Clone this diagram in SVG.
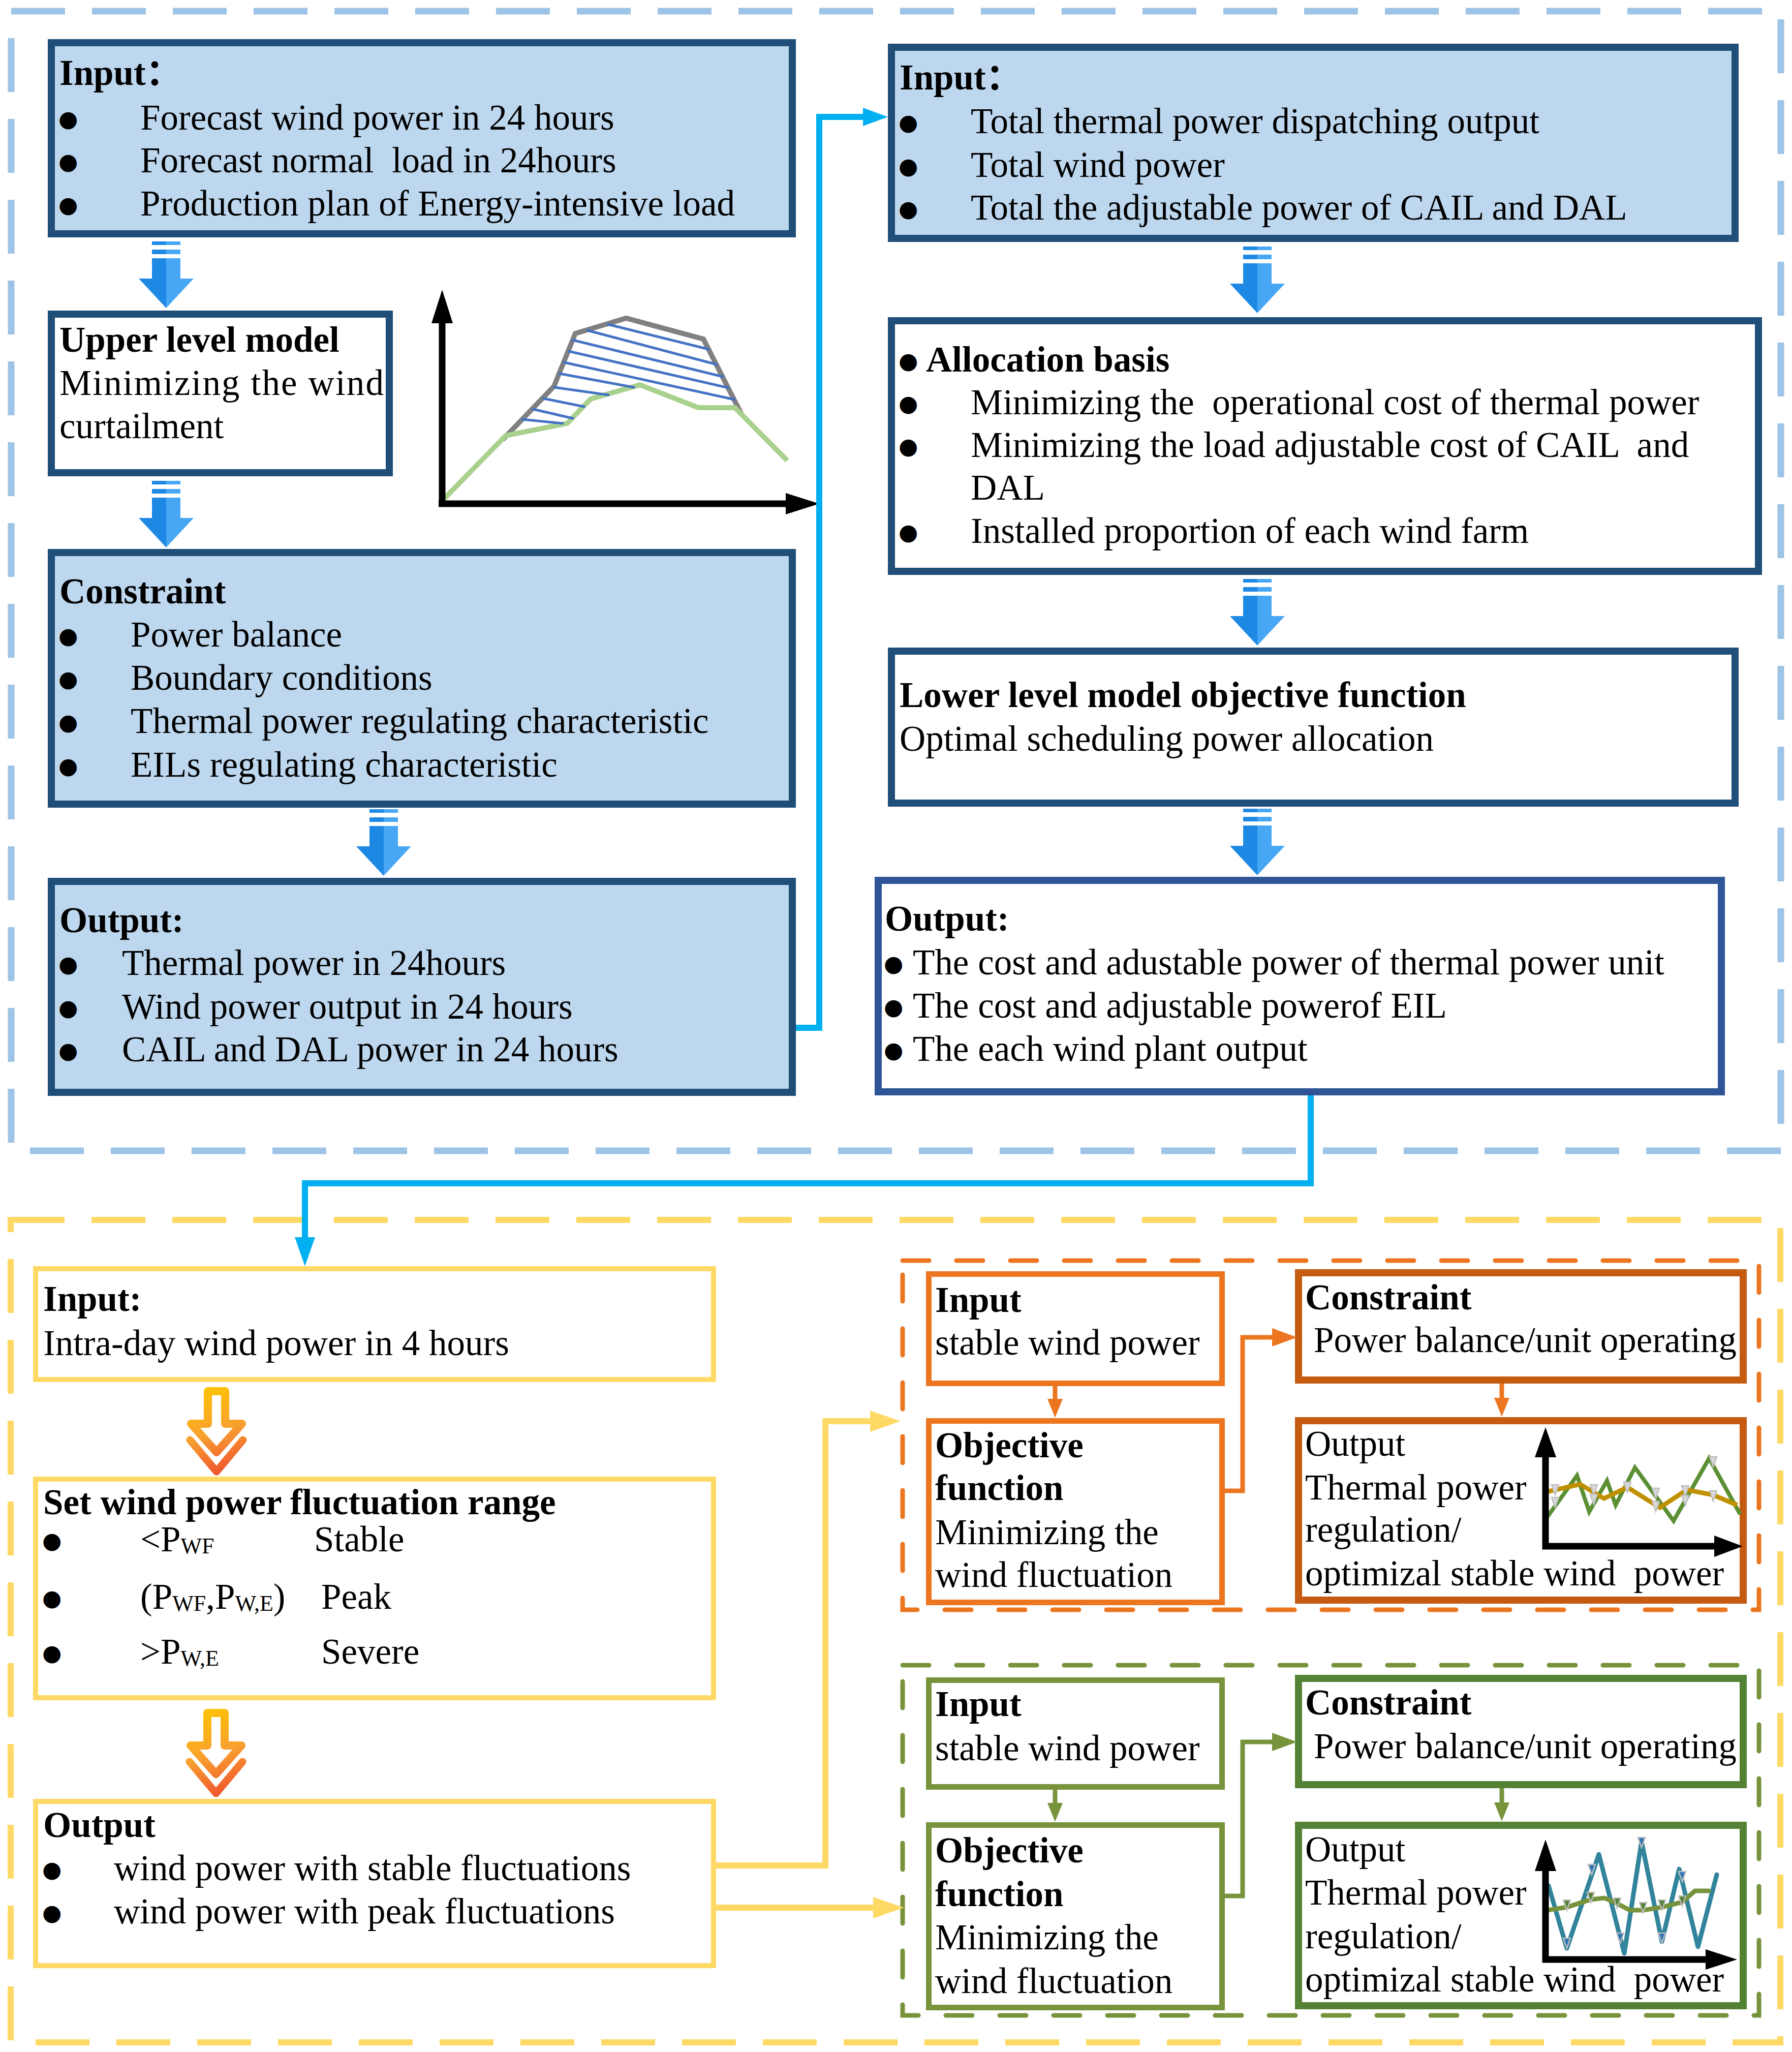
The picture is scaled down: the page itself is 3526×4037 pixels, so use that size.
<svg xmlns="http://www.w3.org/2000/svg" width="3526" height="4037" viewBox="0 0 3526 4037" xml:space="preserve">
<defs>
<style>
text{font-family:"Liberation Serif","Noto Sans CJK SC",serif;font-size:71px;fill:#000;white-space:pre}
.b{font-weight:bold}
.u{font-family:"DejaVu Sans",sans-serif;font-size:44px}
.bx{fill:#BDD7EE;stroke:#1F4E79;stroke-width:14}
.bw{fill:#fff;stroke:#1F4E79;stroke-width:14}
.bo{fill:#fff;stroke:#2F5597;stroke-width:14}
.yb{fill:#fff;stroke:#FFD966;stroke-width:10}
.ob{fill:#fff;stroke:#EC7620;stroke-width:11}
.od{fill:#fff;stroke:#C55A11;stroke-width:14}
.gb{fill:#fff;stroke:#77933C;stroke-width:11}
.gd{fill:#fff;stroke:#548235;stroke-width:14}
.cy{fill:none;stroke:#00B0F0;stroke-width:12}
.yl{fill:none;stroke:#FFD966;stroke-width:12}
.ol{fill:none;stroke:#EC7620;stroke-width:9}
.gl{fill:none;stroke:#77933C;stroke-width:9}
.ax{fill:none;stroke:#000;stroke-width:13}
.hat{stroke:#4472C4;stroke-width:5;stroke-linecap:round}
</style>
<linearGradient id="bg" x1="0" y1="0" x2="1" y2="0">
<stop offset="0" stop-color="#1E88E5"/><stop offset="0.5" stop-color="#1E88E5"/>
<stop offset="0.5" stop-color="#48A7F4"/><stop offset="1" stop-color="#48A7F4"/>
</linearGradient>
<linearGradient id="og" gradientUnits="userSpaceOnUse" x1="-30" y1="0" x2="30" y2="175">
<stop offset="0" stop-color="#FFC400"/><stop offset="0.5" stop-color="#F8A030"/><stop offset="1" stop-color="#EE4A2C"/>
</linearGradient>
<path id="barrow" fill="url(#bg)" d="M-28,0 H28 V7 H-28 Z M-28,16 H28 V25 H-28 Z M-28,33 H28 V73 H54 L0,131 L-54,73 H-28 Z"/>
<g id="oarrow" fill="none" stroke="url(#og)" stroke-linejoin="round" stroke-linecap="round">
<path fill="#fff" stroke-width="16" d="M-17,8 H17 V72 H50 L0,128 L-50,72 H-17 Z"/>
<path stroke-width="15" d="M-52,104 L0,166 L52,104"/>
</g>
<path id="tm" d="M-7,-10 H7 L0,10 Z" stroke="#BFBFBF" stroke-width="2.5"/>
</defs>

<rect width="3526" height="4037" fill="#fff"/>

<g id="frames">
<rect x="22" y="22" width="3482" height="2242" fill="none" stroke="#9DC3E6" stroke-width="13" stroke-dasharray="106 53"/>
<rect x="21" y="2400" width="3482" height="1618" fill="none" stroke="#FFD966" stroke-width="12" stroke-dasharray="106 53"/>
<rect x="1776" y="2480" width="1685" height="687" fill="none" stroke="#EC7620" stroke-width="9" stroke-dasharray="52 54" stroke-linecap="round"/>
<rect x="1776" y="3276" width="1685" height="689" fill="none" stroke="#77933C" stroke-width="9" stroke-dasharray="52 54" stroke-linecap="round"/>
</g>

<g id="n-input-day">
<rect class="bx" x="101" y="84" width="1458" height="376"/>
<text class="b" x="117" y="167">Input：</text>
<text class="u" x="115" y="249">●</text><text x="276" y="255">Forecast wind power in 24 hours</text>
<text class="u" x="115" y="333">●</text><text x="276" y="339">Forecast normal  load in 24hours</text>
<text class="u" x="115" y="418">●</text><text x="276" y="424">Production plan of Energy-intensive load</text>
</g>

<g id="n-upper">
<rect class="bw" x="101" y="618" width="665" height="312"/>
<text class="b" x="117" y="692">Upper level model</text>
<text x="117" y="777" textLength="638" lengthAdjust="spacing">Minimizing the wind</text>
<text x="117" y="862">curtailment</text>
</g>

<g id="n-constraint">
<rect class="bx" x="101" y="1087" width="1458" height="495"/>
<text class="b" x="117" y="1187">Constraint</text>
<text class="u" x="115" y="1266">●</text><text x="257" y="1272">Power balance</text>
<text class="u" x="115" y="1351">●</text><text x="257" y="1357">Boundary conditions</text>
<text class="u" x="115" y="1436">●</text><text x="257" y="1442">Thermal power regulating characteristic</text>
<text class="u" x="115" y="1522">●</text><text x="257" y="1528">EILs regulating characteristic</text>
</g>

<g id="n-output-upper">
<rect class="bx" x="101" y="1734" width="1458" height="415"/>
<text class="b" x="117" y="1834">Output:</text>
<text class="u" x="115" y="1912">●</text><text x="240" y="1918">Thermal power in 24hours</text>
<text class="u" x="115" y="1998">●</text><text x="240" y="2004">Wind power output in 24 hours</text>
<text class="u" x="115" y="2082">●</text><text x="240" y="2088">CAIL and DAL power in 24 hours</text>
</g>

<g id="n-input-total">
<rect class="bx" x="1754" y="93" width="1660" height="376"/>
<text class="b" x="1770" y="176">Input：</text>
<text class="u" x="1768" y="256">●</text><text x="1910" y="262">Total thermal power dispatching output</text>
<text class="u" x="1768" y="342">●</text><text x="1910" y="348">Total wind power</text>
<text class="u" x="1768" y="426">●</text><text x="1910" y="432">Total the adjustable power of CAIL and DAL</text>
</g>

<g id="n-allocation">
<rect class="bw" x="1754" y="631" width="1706" height="493"/>
<text class="u" x="1768" y="725">●</text><text class="b" x="1822" y="731">Allocation basis</text>
<text class="u" x="1768" y="809">●</text><text x="1910" y="815">Minimizing the  operational cost of thermal power</text>
<text class="u" x="1768" y="893">●</text><text x="1910" y="899">Minimizing the load adjustable cost of CAIL  and</text>
<text x="1910" y="983">DAL</text>
<text class="u" x="1768" y="1062">●</text><text x="1910" y="1068">Installed proportion of each wind farm</text>
</g>

<g id="n-lower">
<rect class="bw" x="1754" y="1281" width="1660" height="299"/>
<text class="b" x="1770" y="1391">Lower level model objective function</text>
<text x="1770" y="1477">Optimal scheduling power allocation</text>
</g>

<g id="n-output-lower">
<rect class="bo" x="1728" y="1732" width="1659" height="416"/>
<text class="b" x="1741" y="1831">Output:</text>
<text class="u" x="1739" y="1911">●</text><text x="1796" y="1917">The cost and adustable power of thermal power unit</text>
<text class="u" x="1739" y="1996">●</text><text x="1796" y="2002">The cost and adjustable powerof EIL</text>
<text class="u" x="1739" y="2081">●</text><text x="1796" y="2087">The each wind plant output</text>
</g>

<g id="chart-curtail">
<polyline fill="none" stroke="#808080" stroke-width="10" points="989,865 1090,760 1132,656 1232,626 1384,667 1460,817"/>
<polyline fill="none" stroke="#A9D18E" stroke-width="10" points="875,980 995,857 1116,833 1162,785 1259,757 1374,802 1446,802 1549,906"/>
<line class="hat" x1="1196" y1="638" x2="1394" y2="687"/>
<line class="hat" x1="1156" y1="650" x2="1410" y2="717"/>
<line class="hat" x1="1127" y1="669" x2="1422" y2="741"/>
<line class="hat" x1="1119" y1="691" x2="1433" y2="763"/>
<line class="hat" x1="1110" y1="713" x2="1445" y2="786"/>
<line class="hat" x1="1101" y1="735" x2="1247" y2="762"/>
<line class="hat" x1="1091" y1="762" x2="1197" y2="777"/>
<line class="hat" x1="1070" y1="784" x2="1149" y2="800"/>
<line class="hat" x1="1049" y1="805" x2="1127" y2="823"/>
<line class="hat" x1="1028" y1="825" x2="1107" y2="833"/>
<line class="ax" x1="870" y1="625" x2="870" y2="997"/>
<polygon points="870,570 849,636 891,636" fill="#000"/>
<line class="ax" x1="863" y1="991" x2="1552" y2="991"/>
<polygon points="1612,991 1546,970 1546,1012" fill="#000"/>
</g>

<g id="block-arrows">
<use href="#barrow" x="327" y="475"/>
<use href="#barrow" x="327" y="946"/>
<use href="#barrow" x="755" y="1592"/>
<use href="#barrow" x="2474" y="485"/>
<use href="#barrow" x="2474" y="1139"/>
<use href="#barrow" x="2474" y="1591"/>
<use href="#oarrow" x="426" y="2729"/>
<use href="#oarrow" x="425" y="3362"/>
</g>

<g id="n-input-intraday">
<rect class="yb" x="70" y="2496" width="1334" height="218"/>
<text class="b" x="85" y="2579">Input:</text>
<text x="85" y="2666">Intra-day wind power in 4 hours</text>
</g>

<g id="n-range">
<rect class="yb" x="70" y="2910" width="1334" height="430"/>
<text class="b" x="85" y="2979">Set wind power fluctuation range</text>
<text class="u" x="83" y="3046">●</text>
<text x="276" y="3052">&lt;P<tspan font-size="44" dy="4">WF</tspan></text>
<text x="618" y="3052">Stable</text>
<text class="u" x="83" y="3159">●</text>
<text x="276" y="3165">(P<tspan font-size="44" dy="4">WF</tspan><tspan dy="-4">,P</tspan><tspan font-size="44" dy="4">W,E</tspan><tspan dy="-4">)</tspan></text>
<text x="632" y="3165">Peak</text>
<text class="u" x="83" y="3267">●</text>
<text x="276" y="3273">&gt;P<tspan font-size="44" dy="4">W,E</tspan></text>
<text x="632" y="3273">Severe</text>
</g>

<g id="n-output-intraday">
<rect class="yb" x="70" y="3544" width="1334" height="323"/>
<text class="b" x="85" y="3614">Output</text>
<text class="u" x="83" y="3693">●</text><text x="224" y="3699">wind power with stable fluctuations</text>
<text class="u" x="83" y="3778">●</text><text x="224" y="3784">wind power with peak fluctuations</text>
</g>

<g id="n-o-input">
<rect class="ob" x="1827.5" y="2506.5" width="577" height="215"/>
<text class="b" x="1840" y="2581">Input</text>
<text x="1840" y="2665">stable wind power</text>
</g>
<g id="n-o-objective">
<rect class="ob" x="1827.5" y="2795.5" width="577" height="357"/>
<text class="b" x="1840" y="2867">Objective</text>
<text class="b" x="1840" y="2951">function</text>
<text x="1840" y="3038">Minimizing the</text>
<text x="1840" y="3122">wind fluctuation</text>
</g>
<g id="n-o-constraint">
<rect class="od" x="2555" y="2504" width="875" height="211"/>
<text class="b" x="2568" y="2576">Constraint</text>
<text x="2585" y="2660">Power balance/unit operating</text>
</g>
<g id="n-o-output">
<rect class="od" x="2555" y="2795" width="875" height="353"/>
<text x="2568" y="2864">Output</text>
<text x="2568" y="2950">Thermal power</text>
<text x="2568" y="3033">regulation/</text>
<text x="2568" y="3119">optimizal stable wind  power</text>
<polyline fill="none" stroke="#5A8F32" stroke-width="8" points="3039,2992 3103,2903 3127,2974 3162,2913 3179,2961 3217,2887 3293,2992 3363,2869 3424,2979"/>
<polyline fill="none" stroke="#BF9000" stroke-width="9" points="3039,2936 3109,2920 3156,2948 3202,2926 3266,2966 3319,2931 3371,2941 3418,2961"/>
<g fill="#D9D9D9">
<use href="#tm" x="3060" y="2931"/><use href="#tm" x="3060" y="2956"/>
<use href="#tm" x="3136" y="2931"/><use href="#tm" x="3136" y="2950"/>
<use href="#tm" x="3202" y="2926"/><use href="#tm" x="3258" y="2938"/>
<use href="#tm" x="3258" y="2964"/><use href="#tm" x="3316" y="2933"/>
<use href="#tm" x="3316" y="2952"/><use href="#tm" x="3371" y="2876"/>
<use href="#tm" x="3371" y="2943"/>
</g>
<line class="ax" x1="3041" y1="2860" x2="3041" y2="3048"/>
<polygon points="3041,2808 3020,2867 3062,2867" fill="#000"/>
<line class="ax" x1="3035" y1="3042" x2="3380" y2="3042"/>
<polygon points="3429,3042 3373,3021 3373,3063" fill="#000"/>
</g>

<g id="n-g-input">
<rect class="gb" x="1827.5" y="3305.5" width="577" height="210"/>
<text class="b" x="1840" y="3376">Input</text>
<text x="1840" y="3463">stable wind power</text>
</g>
<g id="n-g-objective">
<rect class="gb" x="1827.5" y="3590.5" width="577" height="359"/>
<text class="b" x="1840" y="3664">Objective</text>
<text class="b" x="1840" y="3750">function</text>
<text x="1840" y="3835">Minimizing the</text>
<text x="1840" y="3921">wind fluctuation</text>
</g>
<g id="n-g-constraint">
<rect class="gd" x="2555" y="3302" width="875" height="209"/>
<text class="b" x="2568" y="3373">Constraint</text>
<text x="2585" y="3459">Power balance/unit operating</text>
</g>
<g id="n-g-output">
<rect class="gd" x="2555" y="3591" width="875" height="355"/>
<text x="2568" y="3662">Output</text>
<text x="2568" y="3747">Thermal power</text>
<text x="2568" y="3833">regulation/</text>
<text x="2568" y="3918">optimizal stable wind  power</text>
<polyline fill="none" stroke="#31849B" stroke-width="9" stroke-linejoin="round" stroke-linecap="round" points="3047,3710 3083,3833 3146,3648 3196,3843 3230,3623 3270,3820 3304,3677 3341,3830 3378,3688"/>
<polyline fill="none" stroke="#77933C" stroke-width="9" stroke-linecap="round" points="3045,3758 3083,3752 3130,3737 3157,3734 3182,3745 3207,3758 3233,3758 3270,3752 3310,3742 3335,3720 3362,3720"/>
<g fill="#548235">
<use href="#tm" x="3083" y="3748"/><use href="#tm" x="3130" y="3733"/>
<use href="#tm" x="3182" y="3744"/><use href="#tm" x="3233" y="3753"/>
<use href="#tm" x="3270" y="3748"/><use href="#tm" x="3310" y="3740"/>
</g>
<g fill="#2E75B6">
<use href="#tm" x="3083" y="3823"/><use href="#tm" x="3132" y="3678"/>
<use href="#tm" x="3188" y="3813"/><use href="#tm" x="3230" y="3625"/>
<use href="#tm" x="3270" y="3813"/><use href="#tm" x="3310" y="3692"/>
</g>
<line class="ax" x1="3041" y1="3675" x2="3041" y2="3861"/>
<polygon points="3041,3619 3020,3681 3062,3681" fill="#000"/>
<line class="ax" x1="3035" y1="3855" x2="3362" y2="3855"/>
<polygon points="3418,3855 3356,3835 3356,3875" fill="#000"/>
</g>

<g id="connectors">
<path class="cy" d="M1566,2022 H1612 V230 H1705"/>
<polygon fill="#00B0F0" points="1747,230 1698,212 1698,248"/>
<path class="cy" d="M2579,2155 V2328 H600 V2440"/>
<polygon fill="#00B0F0" points="600,2491 580,2434 620,2434"/>
<path class="yl" d="M1409,3670 H1624 V2796 H1720"/>
<polygon fill="#FFD966" points="1772,2796 1712,2775 1712,2817"/>
<path class="yl" d="M1409,3753 H1722"/>
<polygon fill="#FFD966" points="1779,3753 1718,3732 1718,3774"/>
<path class="ol" d="M2076,2727 V2758"/>
<polygon fill="#EC7620" points="2076,2789 2061,2752 2091,2752"/>
<path class="ol" d="M2410,2933 H2445 V2631 H2510"/>
<polygon fill="#EC7620" points="2552,2631 2503,2613 2503,2649"/>
<path class="ol" d="M2955,2722 V2755"/>
<polygon fill="#EC7620" points="2955,2787 2940,2750 2970,2750"/>
<path class="gl" d="M2076,3521 V3552"/>
<polygon fill="#77933C" points="2076,3584 2061,3547 2091,3547"/>
<path class="gl" d="M2410,3730 H2445 V3427 H2510"/>
<polygon fill="#77933C" points="2552,3427 2503,3409 2503,3445"/>
<path class="gl" d="M2955,3518 V3550"/>
<polygon fill="#77933C" points="2955,3583 2940,3546 2970,3546"/>
</g>
</svg>
